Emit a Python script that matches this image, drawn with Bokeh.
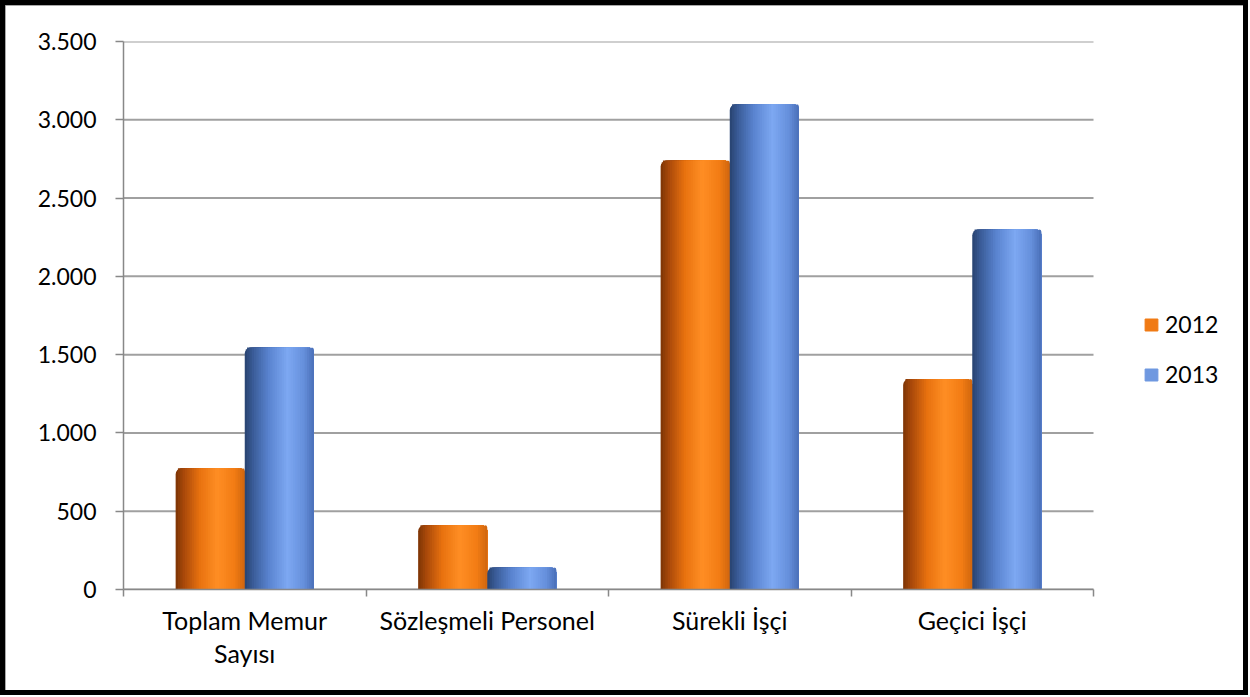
import numpy as np
from bokeh.plotting import figure
from bokeh.models import (ColumnDataSource, Range1d, FixedTicker, Legend, LegendItem)
from bokeh.embed import file_html
from bokeh.resources import INLINE

# ---- data ----
categories = ["Toplam Memur\nSayısı", "Sözleşmeli Personel", "Sürekli İşçi", "Geçici İşçi"]
series_names = ["2012", "2013"]
values_2012 = [775, 410, 2740, 1345]
values_2013 = [1545, 140, 3100, 2300]
y_ticks = [0, 500, 1000, 1500, 2000, 2500, 3000, 3500]
y_tick_labels = ["0", "500", "1.000", "1.500", "2.000", "2.500", "3.000", "3.500"]

FONT = "Lato"
FS = "23px"
FSX = "25px"

W, H = 1248, 695
BORDER = 5
ML, MT = 118, 36
FRAME_W, FRAME_H = 1110, 548
MR = W - ML - FRAME_W
MB = H - MT - FRAME_H
ncat = len(categories)
cat_px = 970 / ncat                      # pixel width of one category slot
x_end = FRAME_W / cat_px                 # extra room on the right for the legend

p = figure(width=W, height=H, output_backend="svg", toolbar_location=None,
           x_range=Range1d(0, x_end), y_range=Range1d(0, 3500),
           min_border_left=ML, min_border_right=MR, min_border_top=MT, min_border_bottom=MB)
p.styles = {"border": "%dpx solid #000" % BORDER, "box-shadow": "inset 0 0 0 2px #8c8c8c",
            "box-sizing": "border-box"}
p.outline_line_color = None
p.background_fill_color = "white"
p.border_fill_color = "white"

# gridlines limited to the category area
p.xgrid.visible = False
p.ygrid.visible = False
p.segment(x0=[0] * len(y_ticks), x1=[ncat] * len(y_ticks), y0=y_ticks, y1=y_ticks,
          line_color="#a0a0a0", line_width=2)

# gradient stops (style only)
def make_grad(stops, n):
    pos = np.array([s[0] for s in stops])
    cols = np.array([[int(s[1][i:i + 2], 16) for i in (1, 3, 5)] for s in stops], dtype=float)
    out = []
    for t in (np.arange(n) + 0.5) / n:
        c = [np.interp(t, pos, cols[:, k]) for k in range(3)]
        out.append("#%02x%02x%02x" % tuple(int(round(v)) for v in c))
    return out

NSTRIP = 30
orange_stops = [(0.0, "#7c3405"), (0.12, "#a9490a"), (0.35, "#e8720f"),
                (0.6, "#ff8e24"), (0.85, "#f27c14"), (1.0, "#cf660e")]
blue_stops = [(0.0, "#28426f"), (0.12, "#3a5c98"), (0.35, "#5a84d0"),
              (0.62, "#7da8f2"), (0.85, "#6690dc"), (1.0, "#4a6fb8")]
grads = [make_grad(orange_stops, NSTRIP), make_grad(blue_stops, NSTRIP)]
legend_cols = ["#f07a14", "#6f98e0"]

bar_w = 0.285
offsets = [-bar_w / 2, bar_w / 2]
centers = np.arange(ncat) + 0.5
legend_items = []
R = 6
for s, vals in enumerate([values_2012, values_2013]):
    first = dict(left=[], right=[], top=[], color=[])
    rest = dict(left=[], right=[], top=[], color=[])
    for c, v in zip(centers, vals):
        left = c + offsets[s] - bar_w / 2
        right = left + bar_w
        for i in range(NSTRIP):
            d = first if i == 0 else rest
            d["left"].append(left + i * bar_w / NSTRIP)
            d["right"].append(right)
            d["top"].append(v)
            d["color"].append(grads[s][i])
    p.quad(left="left", right="right", top="top", bottom=0, source=ColumnDataSource(first),
           fill_color="color", line_color=None, border_radius=(R, R, 0, 0))
    p.quad(left="left", right="right", top="top", bottom=0, source=ColumnDataSource(rest),
           fill_color="color", line_color=None, border_radius=(0, R, 0, 0))
    lr = p.quad(left=[0], right=[0], top=[0], bottom=[0], fill_color=legend_cols[s],
                line_color=legend_cols[s])
    legend_items.append(LegendItem(label=series_names[s], renderers=[lr]))

# axes
yax = p.yaxis[0]
yax.ticker = FixedTicker(ticks=y_ticks)
yax.major_label_overrides = {t: l for t, l in zip(y_ticks, y_tick_labels)}
yax.axis_line_color = "#888888"
yax.axis_line_width = 1.5
yax.major_tick_line_color = "#888888"
yax.major_tick_line_width = 1.5
yax.major_tick_out = 8
yax.major_tick_in = 0
yax.minor_tick_line_color = None
yax.major_label_standoff = 19
yax.major_label_text_font = FONT
yax.major_label_text_font_size = FS
yax.major_label_text_color = "#000000"

xax = p.xaxis[0]
xax.bounds = (0, ncat)
xax.ticker = FixedTicker(ticks=list(centers), minor_ticks=list(range(ncat + 1)))
xax.major_label_overrides = {float(c): n for c, n in zip(centers, categories)}
xax.axis_line_color = "#888888"
xax.axis_line_width = 1.5
xax.major_tick_line_color = None
xax.major_tick_out = 0
xax.major_tick_in = 0
xax.minor_tick_line_color = "#888888"
xax.minor_tick_line_width = 1.5
xax.minor_tick_out = 7
xax.minor_tick_in = 0
xax.major_label_standoff = 8
xax.major_label_text_font = FONT
xax.major_label_text_font_size = FSX
xax.major_label_text_line_height = 1.1
xax.major_label_text_color = "#000000"

legend = Legend(items=legend_items, location=(1020, 201), orientation="vertical",
                label_text_font=FONT, label_text_font_size=FS, label_text_color="#000000",
                glyph_width=16, glyph_height=15, spacing=22, label_standoff=6,
                border_line_color=None, background_fill_alpha=0,
                margin=0, padding=0)
p.add_layout(legend, "center")

open("out.html", "w").write(file_html(p, INLINE))
